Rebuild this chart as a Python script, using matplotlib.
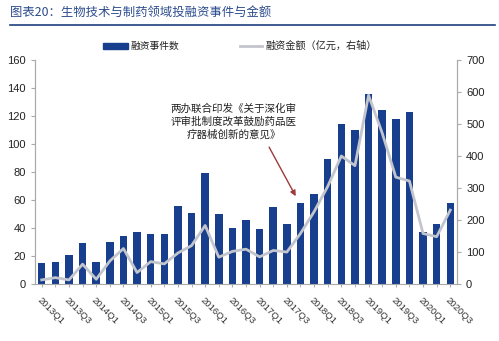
import matplotlib
matplotlib.use("Agg")
import matplotlib.pyplot as plt
from matplotlib.patches import Rectangle
from matplotlib.lines import Line2D
import numpy as np

plt.rcParams['font.family'] = ['Liberation Sans', 'Noto Sans CJK SC', 'DejaVu Sans']

quarters = [f"{y}Q{q}" for y in range(2013, 2021) for q in range(1, 5)][:31]
counts = [15, 16, 21, 29, 16, 30, 34, 37, 36, 36, 56, 51, 79, 50, 40, 46,
          39, 55, 43, 58, 64, 89, 114, 110, 136, 124, 118, 123, 37, 43, 58]
amounts = [13, 20, 13, 62, 15, 72, 111, 36, 70, 63, 97, 120, 183, 84, 102, 109,
           85, 105, 100, 158, 226, 305, 400, 370, 590, 472, 334, 322, 158, 148, 231]
title = "图表20：生物技术与制药领域投融资事件与金额"
bar_label = "融资事件数"
line_label = "融资金额（亿元，右轴）"
note = "两办联合印发《关于深化审\n评审批制度改革鼓励药品医\n疗器械创新的意见》"

bar_color = "#173F8E"
line_color = "#C3C5CC"
cjk = ['Noto Sans CJK SC', 'DejaVu Sans']

W, H = 499, 341
fig = plt.figure(figsize=(W / 100, H / 100), dpi=100)
ax = fig.add_axes([0.070, 0.167, 0.846, 0.657])
ax2 = ax.twinx()

x = np.arange(len(counts))
ax.bar(x, counts, width=0.55, color=bar_color, zorder=2)
ax2.plot(x, amounts, color=line_color, lw=2, zorder=3)

ax.set_xlim(-0.5, len(counts) - 0.5)
ax.set_ylim(0, 160)
ax.set_yticks(range(0, 161, 20))
ax2.set_ylim(0, 700)
ax2.set_yticks(range(0, 701, 100))

ax.set_xticks(x[::2])
ax.set_xticklabels(quarters[::2], rotation=-45, ha='left', rotation_mode='anchor',
                   fontsize=6.8, color='#333333')
ax.set_xticks(x, minor=True)
ax.tick_params(axis='x', which='both', length=2, color='#AAAAAA', pad=6)
ax.tick_params(axis='y', labelsize=8, length=3, color='#AAAAAA', labelcolor='#222222')
ax2.tick_params(axis='y', labelsize=8, length=3, color='#AAAAAA', labelcolor='#222222')

for a in (ax, ax2):
    a.spines['top'].set_visible(False)
    for s in ('left', 'right', 'bottom'):
        a.spines[s].set_color('#AAAAAA')
ax2.spines['bottom'].set_visible(False)

# title and rule
fig.text(10 / W, 1 - 12 / H, title, fontsize=8.9, color='#2B4C8C', style='italic',
         family=cjk, va='center')
fig.add_artist(Line2D([10 / W, 495 / W], [1 - 24.5 / H, 1 - 24.5 / H], color='#1F3F7F', lw=1.2))

# legend drawn in figure coordinates
ly = 1 - 45.5 / H
fig.add_artist(Rectangle((103 / W, 1 - 49 / H), 25 / W, 6 / H, color=bar_color,
                         transform=fig.transFigure))
fig.text(130 / W, ly, bar_label, fontsize=7, family=cjk, va='center', color='#222222')
fig.add_artist(Line2D([240 / W, 262 / W], [ly, ly], color=line_color, lw=2))
fig.text(265 / W, ly, line_label, fontsize=7.3, family=cjk, va='center', color='#222222')

ax.text(14.1, 116, note, ha='center', va='center', fontsize=7.6, family=cjk,
        linespacing=1.35, color='#222222')
ax.annotate('', xy=(18.75, 61), xytext=(16.6, 99.5),
            arrowprops=dict(arrowstyle='-|>', color='#9B3B3B', lw=1, mutation_scale=8))

fig.savefig("out.png", dpi=100)
